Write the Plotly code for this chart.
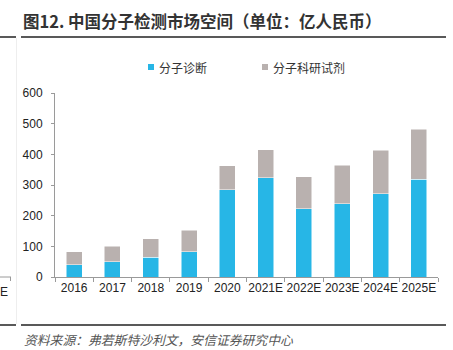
import plotly.graph_objects as go

years = ["2016", "2017", "2018", "2019", "2020", "2021E", "2022E", "2023E", "2024E", "2025E"]
diagnosis = [40, 50, 65, 82, 285, 324, 222, 239, 272, 318]
reagent = [42, 51, 59, 71, 77, 91, 105, 125, 142, 163]
series_names = ["分子诊断", "分子科研试剂"]

W, H = 453, 350
L, R, T, B = 55, 15, 93, 73
PW, PH = W - L - R, H - T - B

def px(x):
    return (x - L) / PW

def py(y):
    return (H - B - y) / PH

BLUE = "#27B6E6"
GRAY = "#B9B1AF"
FONT = "Liberation Sans, Arial, Noto Sans CJK SC, sans-serif"
CJK = "Noto Sans CJK SC, sans-serif"
colors = [BLUE, GRAY]

fig = go.Figure()
for name, vals, c in zip(series_names, [diagnosis, reagent], colors):
    fig.add_trace(go.Bar(x=years, y=vals, name=name,
                         marker=dict(color=c, line=dict(color="white", width=0.5)), width=0.42))

fig.update_layout(
    width=W, height=H, barmode="stack",
    margin=dict(l=L, r=R, t=T, b=B, pad=0),
    plot_bgcolor="white", paper_bgcolor="white",
    font=dict(family=FONT, size=12, color="#222"),
    showlegend=False,
    xaxis=dict(type="category", showline=True, linecolor="#9a9a9a", linewidth=1,
               ticks="outside", tickson="boundaries", ticklen=4, tickcolor="#9a9a9a",
               tickangle=0, tickfont=dict(size=12, color="#222"), showgrid=False),
    yaxis=dict(range=[0, 600], dtick=100, showline=True, linecolor="#9a9a9a", linewidth=1,
               ticks="outside", ticklen=3, tickcolor="#9a9a9a", showgrid=False, zeroline=False,
               ticklabelstandoff=6, tickfont=dict(size=12, color="#222")),
)

# manual legend (small square swatches)
leg_sq = [148, 262]
for name, c, x0 in zip(series_names, colors, leg_sq):
    fig.add_shape(type="rect", xref="paper", yref="paper", x0=px(x0), x1=px(x0 + 6),
                  y0=py(64), y1=py(70), fillcolor=c, line=dict(width=0))
    fig.add_annotation(text=name, xref="paper", yref="paper", x=px(x0 + 9), y=py(67),
                       xanchor="left", yanchor="middle", showarrow=False,
                       font=dict(family=CJK, size=12, color="#333"))

# title and decorative lines
fig.add_annotation(text="<b>图12. 中国分子检测市场空间（单位：亿人民币）</b>", xref="paper", yref="paper",
                   x=px(21), y=py(21), xanchor="left", yanchor="middle", showarrow=False,
                   font=dict(family=CJK, size=16.5, color="#333"))
fig.add_annotation(text="<i>资料来源：弗若斯特沙利文，安信证券研究中心</i>", xref="paper", yref="paper",
                   x=px(22), y=py(339), xanchor="left", yanchor="middle", showarrow=False,
                   font=dict(family=CJK, size=12.8, color="#555"))
fig.add_annotation(text="E", xref="paper", yref="paper", x=px(10), y=py(292), xanchor="right",
                   yanchor="middle", showarrow=False, font=dict(size=12, color="#222"))
for y in (37, 325):
    fig.add_shape(type="line", xref="paper", yref="paper", x0=px(0), x1=px(16), y0=py(y), y1=py(y),
                  line=dict(color="#222", width=1.5))
    fig.add_shape(type="line", xref="paper", yref="paper", x0=px(21), x1=px(446), y0=py(y), y1=py(y),
                  line=dict(color="#222", width=1.5))
fig.add_shape(type="line", xref="paper", yref="paper", x0=px(16.5), x1=px(16.5), y0=py(38), y1=py(324),
              line=dict(color="#eeeeee", width=1))
fig.add_shape(type="line", xref="paper", yref="paper", x0=px(0), x1=px(11), y0=py(277), y1=py(277),
              line=dict(color="#9a9a9a", width=1))
fig.add_shape(type="line", xref="paper", yref="paper", x0=px(10.5), x1=px(10.5), y0=py(277), y1=py(281),
              line=dict(color="#9a9a9a", width=1))

fig.write_html("out.html")
